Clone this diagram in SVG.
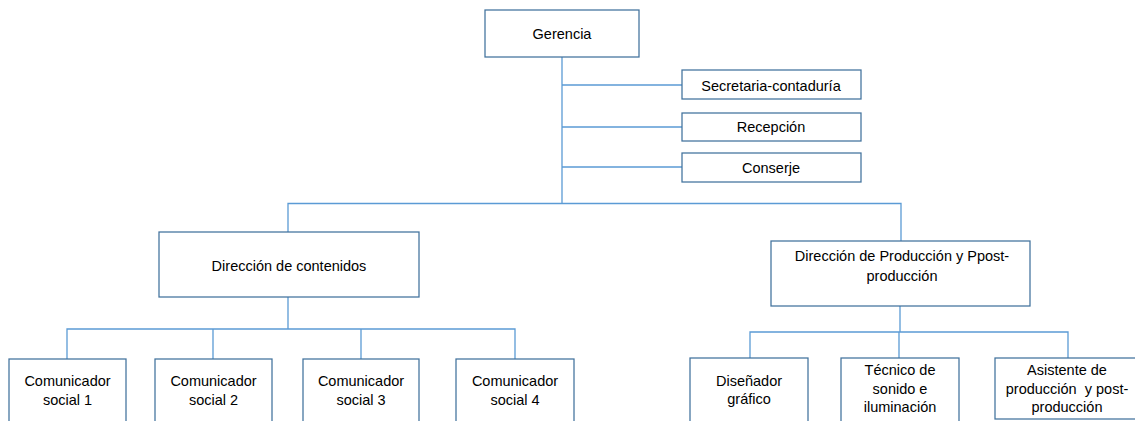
<svg xmlns="http://www.w3.org/2000/svg" width="1135" height="421" viewBox="0 0 1135 421">
<style>
.box{fill:#fff;stroke:#41719C;stroke-width:1.25}
.con{fill:none;stroke:#5B9BD5;stroke-width:1.3}
text{font-family:"Liberation Sans",Arial,sans-serif;font-size:14.5px;fill:#000;text-anchor:middle;white-space:pre}
</style>
<rect width="1135" height="421" fill="#fff"/>
<g id="connectors">
<path class="con" d="M562 57V203.5M562 85H682M562 127H682M562 167H682M288 232V203.5H901V241"/>
<path class="con" d="M288 297V329M67 359V329H515V359M213 329V359M361 329V359"/>
<path class="con" d="M900 306V332M750 358V332H1068V358M899 332V358"/>
</g>
<g id="gerencia"><rect class="box" x="485" y="10" width="154" height="47"/><text x="562" y="39">Gerencia</text></g>
<g id="secretaria"><rect class="box" x="682" y="70" width="179" height="29"/><text x="771" y="90.5">Secretaria-contaduría</text></g>
<g id="recepcion"><rect class="box" x="682" y="113" width="179" height="28"/><text x="771" y="132">Recepción</text></g>
<g id="conserje"><rect class="box" x="682" y="153" width="179" height="29"/><text x="771" y="173">Conserje</text></g>
<g id="dir-contenidos"><rect class="box" x="159" y="232" width="260" height="65"/><text x="289" y="271">Dirección de contenidos</text></g>
<g id="dir-produccion"><rect class="box" x="771" y="241" width="259" height="65"/><text x="902" y="261">Dirección de Producción y Ppost-</text><text x="902" y="281">producción</text></g>
<g id="com1"><rect class="box" x="9" y="359" width="117" height="70"/><text x="67.5" y="386">Comunicador</text><text x="67.5" y="405">social 1</text></g>
<g id="com2"><rect class="box" x="155" y="359" width="117" height="70"/><text x="213.5" y="386">Comunicador</text><text x="213.5" y="405">social 2</text></g>
<g id="com3"><rect class="box" x="303" y="359" width="116" height="70"/><text x="361" y="386">Comunicador</text><text x="361" y="405">social 3</text></g>
<g id="com4"><rect class="box" x="456" y="359" width="118" height="70"/><text x="515" y="386">Comunicador</text><text x="515" y="405">social 4</text></g>
<g id="disenador"><rect class="box" x="690" y="358" width="118" height="70"/><text x="749" y="386">Diseñador</text><text x="749" y="404">gráfico</text></g>
<g id="tecnico"><rect class="box" x="841" y="358" width="118" height="70"/><text x="900" y="375">Técnico de</text><text x="900" y="393.5">sonido e</text><text x="900" y="412">iluminación</text></g>
<g id="asistente"><rect class="box" x="995" y="358" width="146" height="61"/><text x="1067" y="375">Asistente de</text><text x="1067" y="393.5">producción  y post-</text><text x="1067" y="412">producción</text></g>
</svg>
